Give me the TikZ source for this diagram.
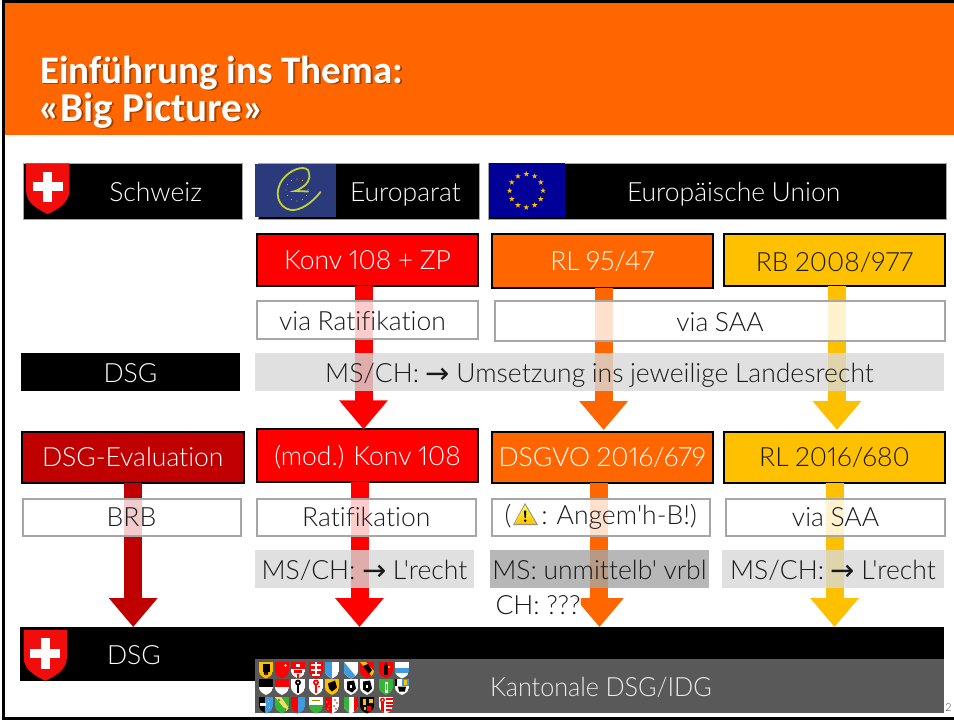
\documentclass[tikz,border=0pt]{standalone}
\usepackage{fontspec}
\setmainfont{Lato}[UprightFont={* Light},BoldFont={* Bold},Ligatures={TeXOff,NoCommon},Numbers=Proportional]
\newfontfamily\nrwfam{Lato}[UprightFont={* Light},Ligatures={TeXOff,NoCommon},FakeStretch=0.95,Numbers=Proportional]
\newcommand\nrw{\nrwfam\fontsize{26.5}{30}\selectfont\fontdimen2\font=6.5pt\relax}
\newcommand\bodyfont{\fontsize{26.5}{30}\selectfont\fontdimen2\font=6.5pt\relax}
\newfontfamily\titlefont{Carlito}[Ligatures=TeXOff]
\newfontfamily\symfont{DejaVu Sans}
\usetikzlibrary{arrows.meta}
\definecolor{hdr}{HTML}{FF6600}
\definecolor{dred}{HTML}{C00000}
\definecolor{gold}{HTML}{FFC000}
\definecolor{frameg}{HTML}{A6A6A6}
\definecolor{coeblue}{HTML}{2B3A7A}
\definecolor{eublue}{HTML}{000099}
\definecolor{coelime}{HTML}{C4D136}
\definecolor{swred}{HTML}{F20D0D}
\definecolor{cgreen}{HTML}{35B535}
\definecolor{cblue}{HTML}{3E9BE0}
\definecolor{tdark}{HTML}{1A1A1A}
\newcommand\toarrow{{\symfont\fontsize{29}{29}\selectfont\raisebox{-1pt}{→}}}
\tikzset{
  x=1pt,y=-1pt,
  txt/.style={font=\bodyfont,text height=19pt,text depth=0pt,inner sep=0pt,outer sep=0pt,anchor=north west},
  headbox/.style={txt,fill=black,draw=frameg,line width=.6pt,text=white},
  solidbox/.style={txt,fill=#1,draw=black,line width=2pt},
  whitebox/.style={txt,fill=white,fill opacity=.8,text opacity=1,draw=frameg,line width=2pt,text=tdark},
  greybox/.style={txt,fill=#1,fill opacity=.8,text opacity=1,text=tdark},
  blackbox/.style={txt,fill=black,text=white},
  blockarrow/.style={line width=18pt,draw=#1,-{Triangle[length=29pt,width=47pt,fill=#1]}},
}
\def\shieldpath{(-7,0) -- (7,0) -- (7,9) .. controls (7,13) and (3,15) .. (0,16.5) .. controls (-3,15) and (-7,13) .. (-7,9) -- cycle}
\newcommand\kanton[4]{\begin{scope}[shift={(#1,#2)}]\begin{scope}\clip \shieldpath;\fill[#3] (-7,0) rectangle (7,17);#4\end{scope}\end{scope}}
\newcommand\swissshield[2]{\begin{scope}[shift={(#1,#2)},scale=3.08]\fill[swred] \shieldpath;\fill[white] (-4.9,6.1) rectangle (4.9,9.1);\fill[white] (-1.5,2.7) rectangle (1.5,12.5);\end{scope}}
\begin{document}
\begin{tikzpicture}
\useasboundingbox (0,0) rectangle (954,720);
\fill[white] (0,0) rectangle (954,720);
% header
\fill[hdr] (4,3) rectangle (954,135);
\draw[line width=2.6pt,draw=black] (954,1.3) -- (3.5,1.3) -- (3.5,718.5) -- (954,718.5);
\node[font=\titlefont\bfseries\fontsize{39}{39}\selectfont,text=black!65!hdr,opacity=.55,anchor=base west,inner sep=0pt] (titleoneshadow) at (41.5,84.5) {Einführung ins Thema:};
\node[font=\titlefont\bfseries\fontsize{41}{41}\selectfont,text=black!65!hdr,opacity=.55,anchor=base west,inner sep=0pt] (titletwoshadow) at (40,122.5) {«Big Picture»};
\node[font=\titlefont\bfseries\fontsize{39}{39}\selectfont,text=white,anchor=base west,inner sep=0pt] (titleone) at (40,83) {Einführung ins Thema:};
\node[font=\titlefont\bfseries\fontsize{41}{41}\selectfont,text=white,anchor=base west,inner sep=0pt] (titletwo) at (38.5,121) {«Big Picture»};

% top header bars
\node[headbox,minimum width=219pt,minimum height=56pt,text width=219pt,align=flush left] (schweiz) at (23.3,163.4) {\raisebox{-.5pt}{\hspace*{86pt}Schweiz}};
\node[headbox,minimum width=221pt,minimum height=56pt,text width=221pt,align=flush left] (europarat) at (258,163.4) {\raisebox{-.5pt}{\hspace*{92pt}Europarat}};
\node[headbox,minimum width=458pt,minimum height=56pt,text width=458pt,align=flush left] (eu) at (488,163.4) {\raisebox{-.5pt}{\hspace*{139pt}Europäische Union}};
\swissshield{47.7}{163.3}
\fill[coeblue] (255,164) rectangle (336,216.7);
\foreach \a in {0,30,...,330}{\fill[orange!80!yellow] (297,190) ++(\a:11) circle (.7);}
\draw[coelime,line width=1.8pt,line cap=round] (320.5,192) .. controls (312,203) and (300,211) .. (291,210) .. controls (278,208) and (273,192) .. (283,179) .. controls (290,170) and (303,165) .. (308,170) .. controls (310,175) and (311,180) .. (304,186) .. controls (300,189) and (296,191) .. (295,191) -- (308,191.5);
\fill[eublue] (489.3,163) rectangle (565,217);
\foreach \a in {0,30,...,330}{\fill[gold] (526.3,190.7) ++(\a:16.7) +(-90:3) -- +(54:3) -- +(198:3) -- +(342:3) -- +(126:3) -- cycle;}

% solid boxes
\node[solidbox=red,text=white,minimum width=221pt,minimum height=52pt,text width=221pt,align=flush center] (konv) at (257,234.3) {Konv 108 + ZP};
\node[solidbox=hdr,text=white,minimum width=221.5pt,minimum height=53.5pt,text width=221.5pt,align=flush center] (rl) at (491.5,234.3) {RL 95/47};
\node[solidbox=gold,text=tdark,minimum width=221pt,minimum height=51.5pt,text width=221pt,align=flush center] (rb) at (724,234.3) {\raisebox{-1.5pt}{RB 2008/977}};
\node[blackbox,minimum width=219pt,minimum height=37.4pt,text width=219pt,align=flush center] (dsgtop) at (21,353.3) {\raisebox{-1pt}{DSG}};
\node[solidbox=dred,text=white,minimum width=221.5pt,minimum height=50.5pt,text width=221.5pt,align=flush center] (eval) at (22,432) {DSG-Evaluation};
\node[solidbox=red,text=white,minimum width=221pt,minimum height=53pt,text width=221pt,align=flush center] (mod) at (257,429.3) {(mod.) Konv 108};
\node[solidbox=hdr,text=white,minimum width=221.5pt,minimum height=50.5pt,text width=221.5pt,align=flush center] (dsgvo) at (491.5,432) {DSGVO 2016/679};
\node[solidbox=gold,text=tdark,minimum width=221pt,minimum height=50.5pt,text width=221pt,align=flush center] (rlneu) at (724,432) {RL 2016/680};
\node[blackbox,minimum width=924pt,minimum height=54pt,text width=924pt,align=flush left] (bar) at (20,627) {\raisebox{-0.5pt}{\hspace*{87pt}DSG}};
\swissshield{45.3}{630}

% arrows
\draw[blockarrow=red] ([xshift=-4pt]konv.south) -- ([xshift=-4pt]mod.north);
\draw[blockarrow=hdr] ([xshift=1.4pt]rl.south) -- ([xshift=1.4pt,yshift=2pt]dsgvo.north);
\draw[blockarrow=gold] ([xshift=2.5pt]rb.south) -- ([xshift=2.5pt,yshift=2pt]rlneu.north);
\draw[blockarrow=dred] ([xshift=.5pt]eval.south) -- ([xshift=.5pt]eval.south |- bar.north);
\draw[blockarrow=red] ([xshift=-8pt]mod.south) -- ([xshift=-8pt]mod.south |- bar.north);
\draw[blockarrow=hdr] ([xshift=-2.8pt]dsgvo.south) -- ([xshift=-2.8pt]dsgvo.south |- bar.north);
\draw[blockarrow=gold] (rlneu.south) -- (rlneu.south |- bar.north);

% translucent boxes
\node[whitebox,minimum width=221pt,minimum height=38pt,text width=221pt,align=flush center] (viarat) at (257,301) {\raisebox{-1pt}{via Ratifikation\hspace*{10pt}}};
\node[whitebox,minimum width=450pt,minimum height=40pt,text width=450pt,align=flush center] (viasaa) at (495,301) {\raisebox{-1pt}{via SAA}};
\node[greybox=black!15,minimum width=689pt,minimum height=37.4pt,text width=689pt,align=flush center] (mstop) at (255,353.3) {\raisebox{-1pt}{MS/CH: \toarrow{} Umsetzung ins jeweilige Landesrecht}};
\node[whitebox,minimum width=218pt,minimum height=37pt,text width=218pt,align=flush center] (brb) at (22.5,498.7) {BRB};
\node[whitebox,minimum width=218.5pt,minimum height=37pt,text width=218.5pt,align=flush center] (ratif) at (257,498.7) {Ratifikation};
\node[whitebox,minimum width=218.5pt,minimum height=37pt,text width=218.5pt,align=flush center] (angem) at (491.5,498.7) {\raisebox{2pt}{(\hspace*{30pt}: Angem'h-B!)}};
\node[whitebox,minimum width=218.5pt,minimum height=37pt,text width=218.5pt,align=flush center] (viasaab) at (726.3,498.7) {via SAA};
\node[greybox=black!15,minimum width=219pt,minimum height=38pt,text width=219pt,align=flush center] (msa) at (255,550) {\raisebox{-1pt}{MS/CH: \toarrow{} L'recht}};
\node[greybox=frameg,minimum width=219pt,minimum height=38pt,text width=219pt,align=flush center] (msb) at (490,550) {\raisebox{-1pt}{MS: unmittelb' vrbl}};
\node[greybox=black!15,minimum width=222pt,minimum height=38pt,text width=222pt,align=flush center] (msc) at (722,550) {\raisebox{-1pt}{MS/CH: \toarrow{} L'recht}};
\node[txt,fill=white,fill opacity=.8,text opacity=1,text=tdark,minimum width=90pt,minimum height=35pt,text width=90pt,align=flush left] (chq) at (491,590) {\raisebox{3pt}{\mbox{\hspace*{4.5pt}CH: ???}}};
% warning triangle
\fill[black!45,line join=round] (525,503) -- (538,525) -- (513,525) -- cycle;
\shade[top color=yellow!70!white,bottom color=gold,line join=round] (525,505) -- (536.3,524) -- (514.2,524) -- cycle;
\fill[black] (523.9,510.5) -- (526.4,510.5) -- (525.7,518) -- (524.6,518) -- cycle;
\fill[black] (525.15,520.7) circle (1.4);

% cantons
\node[txt,fill=black!65,text=white!92!black,minimum width=689pt,minimum height=54pt,text width=689pt,align=flush left] (kant) at (255,659) {\nrw\raisebox{-0.5pt}{\hspace*{235pt}Kantonale DSG/IDG}};
% row 1
\kanton{266}{662}{gold}{\fill[black] (-3.5,2) rectangle (3.5,10);\fill[black] (0,11) circle (2.3);\fill[red] (0,12) circle (1);}
\kanton{282}{662}{red}{\fill[white] (3,1.5) rectangle (4,4.5);\fill[white] (2,2.5) rectangle (5,3.5);}
\kanton{298}{662}{red}{\fill[white] (-7,7) rectangle (7,17);\fill[red] (-4,8) rectangle (4,11);\fill[white] (-2,2) rectangle (2,5);\fill[red] (-1,12) rectangle (1,17);}
\kanton{316}{662}{red}{\fill[white] (-5,2) rectangle (5,4);\fill[white] (-1,0) rectangle (1,14);\fill[white] (-5,7) rectangle (5,9);\fill[white] (-4,12) rectangle (4,14);}
\kanton{332}{662}{white}{\fill[cblue] (-7,0) rectangle (0,17);}
\kanton{351}{662}{white}{\fill[cblue] (-7,0) -- (7,17) -- (-7,17) -- cycle;}
\kanton{367}{662}{red}{\fill[gold] (-7,0) -- (-1,0) -- (7,9) -- (7,17) -- cycle;\fill[black] (-4,4) -- (1,2) -- (5,8) -- (2,12) -- cycle;}
\kanton{386}{662}{red}{\fill[black] (-2,3) rectangle (2,13);\fill[black] (0,2) circle (1.5);\fill[gold] (2,4) rectangle (4,6);}
\kanton{402}{662}{white}{\fill[cblue] (-7,5.5) rectangle (7,11);}
% row 2
\kanton{266}{678.5}{white}{\fill[black] (-7,0) rectangle (7,8);}
\kanton{282}{678.5}{white}{\fill[red] (-7,0) rectangle (7,8);}
\kanton{298}{678.5}{white}{\fill[black] (-1.5,2) rectangle (1,14);\fill[black] (0,4) circle (3);\fill[white] (0,4) circle (1.2);}
\kanton{316}{678.5}{white}{\fill[red] (-1.5,2) rectangle (1,14);\fill[red] (0,4) circle (3);\fill[white] (0,4) circle (1.2);\fill[red] (3,8) circle (1);}
\kanton{332}{678.5}{gold}{\fill[black] (-4,5) -- (3,2) -- (5,9) -- (0,13) -- (-3,10) -- cycle;}
\kanton{351}{678.5}{white}{\fill[black] (-4,3) -- (3,2) -- (5,10) -- (1,14) -- (-4,11) -- cycle;\fill[white] (-1,6) rectangle (1,9);}
\kanton{367}{678.5}{white}{\fill[black] (-4,3) -- (3,2) -- (5,10) -- (1,14) -- (-4,11) -- cycle;\fill[white] (-1,6) rectangle (1,9);}
\kanton{386}{678.5}{cgreen}{\fill[white] (-1.5,3) rectangle (1.5,14);\fill[cgreen] (-.5,5) rectangle (.5,11);}
\kanton{402}{678.5}{white}{\fill[cblue] (0,0) rectangle (7,7);\fill[gold] (2,1) rectangle (5,6);\fill[black] (-7,0) rectangle (-5,7);\fill[black] (-4,8) -- (4,8) -- (3,13) -- (-3,13) -- cycle;}
% row 3
\kanton{266}{697}{cblue}{\fill[black] (-7,0) rectangle (-1,17);\fill[white] (-6,6) rectangle (0,9);\fill[white] (2,4) rectangle (3,5);\fill[white] (3,10) rectangle (4,11);}
\kanton{282}{697}{cgreen}{\fill[white!40!gold] (-7,0) -- (-1,0) -- (7,11) -- (7,17) -- cycle;\fill[cgreen] (-3,3) circle (1.5);\fill[cgreen] (3,12) circle (1.5);}
\kanton{298}{697}{cblue}{\fill[red] (-7,0) rectangle (0,17);}
\kanton{316}{697}{cgreen}{\fill[white] (-7,0) rectangle (7,8);\fill[gold!70!black] (-4,3) rectangle (4,4);}
\kanton{332}{697}{red}{\fill[white] (0,0) rectangle (7,17);\foreach \i/\j in {-4/3,-2/6,-5/9,-2/12,3/3,5/6,2/9,4/12}{\fill[red!90!black] (\i,\j) circle (.9);}\foreach \i/\j in {-5/5,-3/9,-4/12}{\fill[white] (\i,\j) circle (.7);}}
\kanton{351}{697}{white}{\fill[cgreen] (-7,0) rectangle (-2.5,17);\fill[red] (2.5,0) rectangle (7,17);}
\kanton{367}{697}{black}{\fill[gold] (-4,2) rectangle (-1,8);\fill[gold] (2,2) rectangle (6,6);\fill[red] (0,9) rectangle (4,14);\fill[gold] (-3,10) rectangle (-1,13);}
\kanton{386}{697}{white}{\fill[red] (-5,2) rectangle (-2,15);\fill[red] (-3.5,3) circle (2.5);\fill[white] (-3.5,3) circle (1);\foreach \j in {1,4.5,8,11.5}{\fill[red] (0,\j) rectangle (7,\j+2);}}

% page number
\node[font=\fontsize{11}{11}\selectfont,text=black!75,inner sep=0pt] (pagenum) at (948.5,708) {2};
\end{tikzpicture}
\end{document}
